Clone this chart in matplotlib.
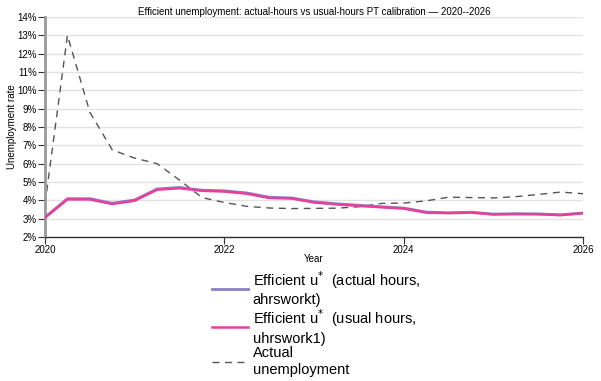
import numpy as np
import matplotlib
matplotlib.use('Agg')
import matplotlib.pyplot as plt
from matplotlib.ticker import FuncFormatter

plt.rcParams['font.family'] = ['Liberation Sans', 'DejaVu Sans']

# quarterly dates
dates = [2020.0, 2020.25, 2020.5, 2020.75, 2021.0, 2021.25, 2021.5, 2021.75,
         2022.0, 2022.25, 2022.5, 2022.75, 2023.0, 2023.25, 2023.5, 2023.75,
         2024.0, 2024.25, 2024.5, 2024.75, 2025.0, 2025.25, 2025.5, 2025.75,
         2026.0]

u_usual = [3.05, 4.05, 4.05, 3.80, 3.98, 4.58, 4.66, 4.52,
           4.48, 4.36, 4.13, 4.10, 3.88, 3.78, 3.70, 3.62,
           3.55, 3.33, 3.30, 3.33, 3.23, 3.25, 3.24, 3.19,
           3.30]

u_actual_hours = [3.08, 4.09, 4.09, 3.84, 4.02, 4.62, 4.70, 4.55,
                  4.52, 4.40, 4.17, 4.13, 3.92, 3.81, 3.73, 3.65,
                  3.58, 3.36, 3.32, 3.35, 3.25, 3.27, 3.26, 3.21,
                  3.31]

unemp = [3.8, 13.0, 8.8, 6.75, 6.3, 6.0, 5.1, 4.15,
         3.88, 3.67, 3.58, 3.55, 3.56, 3.57, 3.65, 3.83,
         3.85, 3.97, 4.17, 4.15, 4.13, 4.2, 4.32, 4.45,
         4.36]

fig = plt.figure(figsize=(6.01, 3.81), dpi=100)
ax = fig.add_axes([0.0749, 0.378, 0.8954, 0.5774])

ax.plot(dates, unemp, color='#555555', lw=1.0, ls=(0, (5, 4)), label='Actual\nunemployment', zorder=2)
ax.plot(dates, u_actual_hours, color='#8a7fc8', lw=2.0,
        label='Efficient u$^{*}$  (actual hours,\nahrsworkt)', zorder=3)
ax.plot(dates, u_usual, color='#e8409a', lw=1.8,
        label='Efficient u$^{*}$  (usual hours,\nuhrswork1)', zorder=4)

ax.set_xlim(2020, 2026)
ax.set_ylim(2, 14)
ax.set_xticks([2020, 2022, 2024, 2026])
ax.set_yticks(np.arange(2, 15, 1))
ax.yaxis.set_major_formatter(FuncFormatter(lambda v, p: f'{int(v)}%'))
ax.grid(axis='y', color='#e2e2e2', lw=1.0)
ax.set_axisbelow(True)

for s in ['top', 'right']:
    ax.spines[s].set_visible(False)
ax.spines['left'].set_color('#999999')
ax.spines['left'].set_linewidth(2)
ax.spines['bottom'].set_color('#333333')
ax.spines['bottom'].set_linewidth(1)
ax.tick_params(axis='both', labelsize=7, length=5, width=0.8, color='#333333', pad=1)

ax.set_title('Efficient unemployment: actual-hours vs usual-hours PT calibration — 2020--2026',
             fontsize=7, pad=1.5)
ax.set_xlabel('Year', fontsize=7, labelpad=-1)
ax.set_ylabel('Unemployment rate', fontsize=7, labelpad=0)

handles, labels = ax.get_legend_handles_labels()
order = [1, 2, 0]
leg = fig.legend([handles[i] for i in order], [labels[i] for i in order],
                 loc='upper left', bbox_to_anchor=(212 / 601, 1 - 269 / 381), frameon=False,
                 fontsize=10.5, handlelength=2.45, handletextpad=0.35, labelspacing=0.02,
                 borderpad=0, borderaxespad=0)
for t in leg.get_texts():
    t.set_linespacing(1.25)

fig.savefig('out.png', dpi=100)
